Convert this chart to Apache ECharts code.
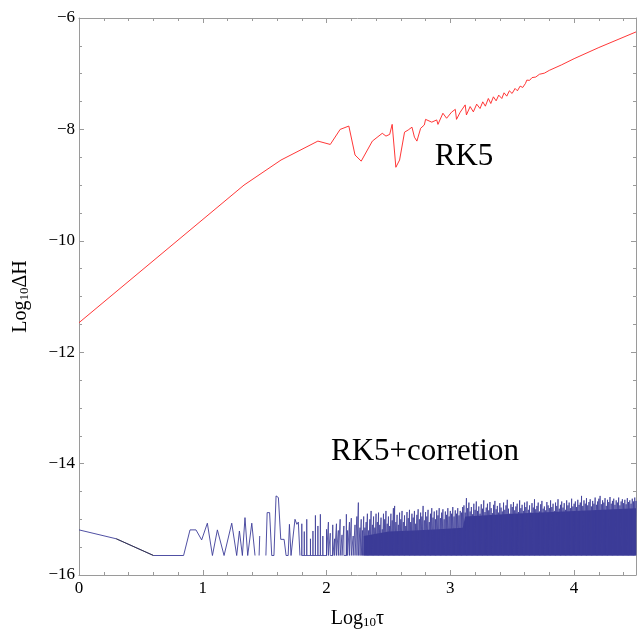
<!DOCTYPE html>
<html>
<head>
<meta charset="utf-8">
<script src="https://cdn.jsdelivr.net/npm/echarts@6/dist/echarts.min.js"></script>
<style>
  html, body { margin: 0; padding: 0; background: #fff; }
  #main { width: 640px; height: 630px; }
</style>
</head>
<body>
<div id="main"></div>
<script>
// floor of the corrected error (machine precision)
const FLOOR = -15.65

// RK5, [log10 tau, log10 dH]
const rk5 = [
  [0, -11.47], [1.333, -9.0], [1.632, -8.55], [1.93, -8.21], [2.03, -8.27],
  [2.11, -8.0], [2.18, -7.94], [2.23, -8.46], [2.28, -8.57], [2.37, -8.21],
  [2.45, -8.07], [2.48, -8.12], [2.51, -8.09], [2.53, -7.91], [2.56, -8.68],
  [2.59, -8.55], [2.63, -8.05], [2.66, -8.01], [2.69, -7.96], [2.71, -8.14],
  [2.73, -8.21], [2.76, -7.98], [2.79, -7.92], [2.80, -7.82], [2.85, -7.87],
  [2.89, -7.83], [2.90, -7.91], [2.94, -7.71], [2.97, -7.80], [3.01, -7.69],
  [3.04, -7.64], [3.05, -7.82], [3.08, -7.69], [3.12, -7.56], [3.13, -7.74],
  [3.16, -7.59], [3.186, -7.685], [3.213, -7.547], [3.24, -7.625], [3.262, -7.505],
  [3.283, -7.583], [3.307, -7.445], [3.327, -7.535], [3.348, -7.415], [3.37, -7.487],
  [3.391, -7.385], [3.416, -7.445], [3.434, -7.343], [3.456, -7.403], [3.477, -7.307],
  [3.499, -7.355], [3.523, -7.265], [3.542, -7.307], [3.564, -7.223], [3.585, -7.247],
  [3.607, -7.175], [3.618, -7.115], [3.64, -7.12], [3.66, -7.07], [3.69, -7.06],
  [3.72, -7.01], [3.76, -6.99], [3.8, -6.94], [3.9, -6.84], [4.0, -6.73],
  [4.2, -6.53], [4.5, -6.25]
]

// RK5+correction, sparse start (null = gap)
const corrSparse = [
  [0, -15.19], [0.301, -15.35], [0.602, -15.65], [0.845, -15.65], [0.897, -15.19],
  [0.945, -15.19], [0.991, -15.37], [1.037, -15.07], [1.078, -15.65], [1.118, -15.19],
  [1.172, -15.65], [1.234, -15.07], [1.274, -15.65], [1.296, -15.21], [1.32, -15.65],
  [1.341, -14.97], [1.363, -15.65], [1.396, -15.07], [1.422, -15.65], [1.44, null],
  [1.455, -15.65], [1.46, -15.3], [1.48, null], [1.51, -15.65], [1.52, -14.88],
  [1.54, -14.88], [1.557, -15.65], [1.575, -15.65], [1.592, -14.58], [1.611, -14.61],
  [1.63, -15.36], [1.657, -15.36], [1.673, -15.65], [1.69, -15.65], [1.70, -15.09],
  [1.713, -15.65], [1.73, -15.3], [1.745, -15.0], [1.76, -15.09], [1.772, -15.05],
  [1.785, -15.65]
]
// the short dark piece of the first segment
const corrDark = [[0.301, -15.35], [0.602, -15.65]]

// spike tops of the dense part
const corrSpikes = [
  [1.80, -15.08], [1.82, -15.22], [1.84, -15.0], [1.87, -15.35], [1.89, -15.21],
  [1.91, -14.93], [1.93, -15.12], [1.95, -14.91], [1.97, -15.3], [2.0, -15.18],
  [2.015, -15.05], [2.03, -15.25], [2.05, -15.1], [2.065, -15.35], [2.08, -15.08],
  [2.095, -15.2], [2.11, -15.0], [2.125, -15.28], [2.14, -15.12], [2.16, -14.91],
  [2.17, -15.2], [2.185, -15.05], [2.20, -14.98], [2.215, -15.3], [2.23, -15.1],
  [2.245, -14.95], [2.257, -14.7], [2.27, -15.15], [2.28, -15.0], [2.29, -15.2],
  [2.30, -14.95], [2.31, -15.15], [2.32, -15.05], [2.33, -14.9], [2.34, -15.2],
  [2.35, -15.0], [2.36, -14.85], [2.37, -15.1], [2.38, -14.95], [2.39, -15.15],
  [2.40, -14.9], [2.41, -15.05], [2.42, -14.88], [2.43, -15.1], [2.44, -14.97],
  [2.45, -15.18], [2.46, -14.9], [2.47, -15.0], [2.48, -14.85], [2.49, -15.08],
  [2.50, -14.95], [2.51, -15.12], [2.52, -14.9], [2.53, -15.02], [2.54, -14.8],
  [2.55, -14.76], [2.56, -15.05], [2.57, -14.92], [2.58, -15.1], [2.59, -14.88],
  [2.60, -15.0], [2.61, -14.85], [2.62, -15.05], [2.63, -14.93], [2.64, -15.12],
  [2.65, -14.87], [2.66, -14.98], [2.67, -14.83], [2.68, -15.05], [2.69, -14.9],
  [2.70, -14.97], [2.71, -14.85], [2.72, -15.08], [2.73, -14.92], [2.74, -14.82],
  [2.75, -15.0], [2.76, -14.88], [2.77, -14.95], [2.78, -14.76], [2.79, -15.02],
  [2.80, -14.87], [2.81, -14.95], [2.82, -14.83], [2.83, -15.05], [2.84, -14.9],
  [2.85, -14.8], [2.86, -14.97], [2.87, -14.86], [2.88, -15.0], [2.89, -14.84],
  [2.90, -14.93], [2.91, -14.8], [2.92, -14.98], [2.93, -14.88], [2.94, -14.82],
  [2.95, -15.0], [2.96, -14.86], [2.97, -14.92], [2.98, -14.8], [2.99, -14.95],
  [3.00, -14.85], [3.01, -14.9], [3.02, -14.78], [3.03, -14.95], [3.04, -14.84],
  [3.05, -14.9], [3.06, -14.8], [3.07, -14.93], [3.08, -14.85], [3.09, -14.88],
  [3.10, -14.78],
  [3.11, -14.75], [3.12, -14.88], [3.13, -14.62], [3.14, -14.80], [3.15, -14.70],
  [3.16, -14.86], [3.17, -14.78], [3.18, -14.91], [3.19, -14.72], [3.20, -14.83],
  [3.21, -14.68], [3.22, -14.85], [3.23, -14.77], [3.24, -14.90], [3.25, -14.73],
  [3.26, -14.81], [3.27, -14.66], [3.28, -14.87], [3.29, -14.79], [3.30, -14.72],
  [3.31, -14.84], [3.32, -14.69], [3.33, -14.80], [3.34, -14.89], [3.35, -14.74],
  [3.36, -14.67], [3.37, -14.82], [3.38, -14.76], [3.39, -14.88], [3.40, -14.71],
  [3.41, -14.79], [3.42, -14.86], [3.43, -14.70], [3.44, -14.83], [3.45, -14.75],
  [3.46, -14.65], [3.47, -14.81], [3.48, -14.90], [3.49, -14.73], [3.50, -14.78],
  [3.51, -14.69], [3.52, -14.84], [3.53, -14.77], [3.54, -14.72], [3.55, -14.87],
  [3.56, -14.66], [3.57, -14.80], [3.58, -14.74], [3.59, -14.85], [3.60, -14.70],
  [3.61, -14.78], [3.62, -14.68], [3.63, -14.83], [3.64, -14.75], [3.65, -14.88],
  [3.66, -14.71], [3.67, -14.79], [3.68, -14.64], [3.69, -14.82], [3.70, -14.76],
  [3.71, -14.70], [3.72, -14.86], [3.73, -14.73], [3.74, -14.67], [3.75, -14.81],
  [3.76, -14.77], [3.77, -14.84], [3.78, -14.69], [3.79, -14.75], [3.80, -14.80],
  [3.81, -14.66], [3.82, -14.78], [3.83, -14.72], [3.84, -14.85], [3.85, -14.70],
  [3.86, -14.76], [3.87, -14.64], [3.88, -14.81], [3.89, -14.74], [3.90, -14.68],
  [3.91, -14.79], [3.92, -14.71], [3.93, -14.83], [3.94, -14.66], [3.95, -14.75],
  [3.96, -14.70], [3.97, -14.80], [3.98, -14.63], [3.99, -14.77], [4.00, -14.72],
  [4.01, -14.68], [4.02, -14.78], [4.03, -14.65], [4.04, -14.74], [4.05, -14.70],
  [4.06, -14.58], [4.07, -14.76], [4.08, -14.66], [4.09, -14.72], [4.10, -14.62],
  [4.11, -14.75], [4.12, -14.69], [4.13, -14.64], [4.14, -14.77], [4.15, -14.67],
  [4.16, -14.72], [4.17, -14.61], [4.18, -14.74], [4.19, -14.68], [4.20, -14.63],
  [4.21, -14.58], [4.22, -14.73], [4.23, -14.66], [4.24, -14.70], [4.25, -14.62],
  [4.26, -14.76], [4.27, -14.65], [4.28, -14.69], [4.29, -14.60], [4.30, -14.72],
  [4.31, -14.67], [4.32, -14.63], [4.33, -14.74], [4.34, -14.66], [4.35, -14.70],
  [4.36, -14.61], [4.37, -14.75], [4.38, -14.68], [4.39, -14.64], [4.40, -14.71],
  [4.41, -14.65], [4.42, -14.73], [4.43, -14.62], [4.44, -14.69], [4.45, -14.66],
  [4.46, -14.72], [4.47, -14.63], [4.48, -14.68], [4.49, -14.61], [4.50, -14.67]
]
// top of the solid dark band under the spikes
const corrBand = [
  [2.3, -15.3], [2.5, -15.22], [2.7, -15.2], [2.9, -15.18], [3.1, -15.15],
  [3.12, -14.95], [3.5, -14.9], [4.0, -14.85], [4.5, -14.8]
]

const xTicks = { min: 0, max: 4.5, major: 1, minor: 0.2 }
const yTicks = { min: -16, max: -6, major: 2 }

const SERIF = '"Liberation Serif", "DejaVu Serif", serif'
const BLUE = '#3c3c98'
const AXIS = '#9a9a9a'

// each spike goes from the floor up to its top and back
const spikeLine = []
corrSpikes.forEach(p => {
  spikeLine.push([p[0], FLOOR], [p[0], p[1]], [p[0], FLOOR])
})

const minus = v => (v < 0 ? '\u2212' + Math.abs(v) : String(v))

function xAxisOf (position, interval, len, withLabel, withLine) {
  return {
    type: 'value',
    position: position,
    min: xTicks.min,
    max: xTicks.max,
    interval: interval,
    axisLine: { show: withLine, onZero: false, lineStyle: { color: AXIS, width: 1 } },
    axisTick: { show: true, inside: true, length: len, lineStyle: { color: AXIS } },
    axisLabel: {
      show: withLabel,
      showMaxLabel: false,
      margin: 5,
      color: '#000',
      fontFamily: SERIF,
      fontSize: 17
    },
    splitLine: { show: false }
  }
}

function yAxisOf (position, withLabel) {
  return {
    type: 'value',
    position: position,
    min: yTicks.min,
    max: yTicks.max,
    interval: yTicks.major,
    axisLine: { show: true, onZero: false, lineStyle: { color: AXIS, width: 1 } },
    axisTick: { show: true, inside: true, length: 5, lineStyle: { color: AXIS } },
    minorTick: { show: true, splitNumber: 4, length: 3, lineStyle: { color: AXIS } },
    axisLabel: {
      show: withLabel,
      margin: 4,
      color: '#000',
      fontFamily: SERIF,
      fontSize: 17,
      formatter: minus
    },
    splitLine: { show: false },
    minorSplitLine: { show: false }
  }
}

const bottomMain = xAxisOf('bottom', xTicks.major, 5, true, true)
bottomMain.name = '{a|Log}{b|10}{a|\u03c4}'
bottomMain.nameLocation = 'middle'
bottomMain.nameGap = 30
bottomMain.nameTextStyle = {
  color: '#000',
  rich: {
    a: { fontFamily: SERIF, fontSize: 20, lineHeight: 24, verticalAlign: 'bottom', color: '#000' },
    b: { fontFamily: SERIF, fontSize: 13, lineHeight: 10, verticalAlign: 'bottom', color: '#000' }
  }
}

const leftMain = yAxisOf('left', true)
leftMain.name = '{a|Log}{b|10}{a|\u0394H}'
leftMain.nameLocation = 'middle'
leftMain.nameRotate = 90
leftMain.nameGap = 48
leftMain.nameTextStyle = bottomMain.nameTextStyle

const chart = echarts.init(document.getElementById('main'), null, { renderer: 'canvas' })

const option = {
  animation: false,
  backgroundColor: '#fff',
  grid: { left: 79, right: 4, top: 18, bottom: 55, containLabel: false, outerBoundsMode: 'none' },
  xAxis: [
    bottomMain,
    xAxisOf('bottom', xTicks.minor, 3, false, false),
    xAxisOf('top', xTicks.major, 5, false, true),
    xAxisOf('top', xTicks.minor, 3, false, false)
  ],
  yAxis: [
    leftMain,
    yAxisOf('right', false)
  ],
  series: [
    {
      name: 'band',
      type: 'line',
      data: corrBand,
      showSymbol: false,
      lineStyle: { width: 0 },
      areaStyle: { origin: FLOOR, color: BLUE, opacity: 1 },
      silent: true
    },
    {
      name: 'RK5+corretion spikes',
      type: 'line',
      data: spikeLine,
      showSymbol: false,
      lineStyle: { color: BLUE, width: 0.8 },
      silent: true
    },
    {
      name: 'RK5+corretion',
      type: 'line',
      data: corrSparse,
      showSymbol: false,
      connectNulls: false,
      lineStyle: { color: BLUE, width: 0.9 },
      silent: true
    },
    {
      name: 'dark',
      type: 'line',
      data: corrDark,
      showSymbol: false,
      lineStyle: { color: '#333344', width: 0.9 },
      silent: true
    },
    {
      name: 'RK5',
      type: 'line',
      data: rk5,
      showSymbol: false,
      lineStyle: { color: '#ff2020', width: 0.9 },
      silent: true
    }
  ],
  graphic: [
    {
      type: 'text',
      x: 464,
      y: 157,
      style: {
        text: 'RK5',
        font: '31px "Liberation Serif"',
        fill: '#000',
        textAlign: 'center',
        textVerticalAlign: 'middle'
      }
    },
    {
      type: 'text',
      x: 425,
      y: 452,
      style: {
        text: 'RK5+corretion',
        font: '31px "Liberation Serif"',
        fill: '#000',
        textAlign: 'center',
        textVerticalAlign: 'middle'
      }
    }
  ]
}

chart.setOption(option)
</script>
</body>
</html>
